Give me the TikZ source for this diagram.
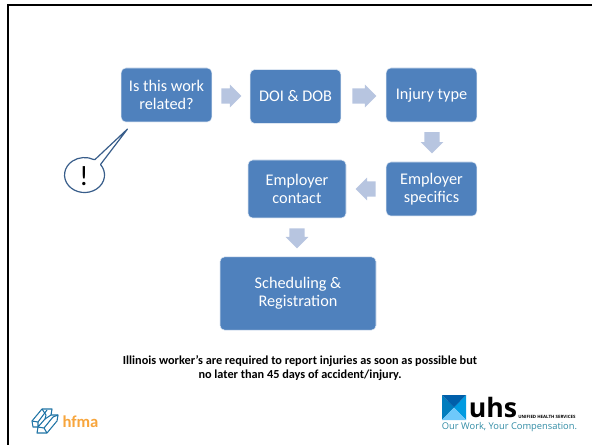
\documentclass[tikz,border=0pt]{standalone}
\usepackage{fontspec}
\setmainfont{Carlito}
\newfontfamily\logofont{Open Sans}
\usetikzlibrary{shapes.arrows}
\definecolor{boxblue}{RGB}{79,129,189}
\definecolor{arrowblue}{RGB}{183,197,224}
\definecolor{calloutblue}{RGB}{56,93,138}
\definecolor{hfmablue}{RGB}{30,115,165}
\definecolor{hfmaorange}{RGB}{247,165,60}
\definecolor{uhsblue}{RGB}{0,125,190}
\definecolor{uhsmid}{RGB}{0,155,225}
\definecolor{uhsdark}{RGB}{0,95,170}
\definecolor{uhslight}{RGB}{110,200,250}
\definecolor{uhsteal}{RGB}{50,140,165}
\tikzset{
  stepbox/.style={draw=white!80!boxblue, line width=0.4pt, fill=boxblue, rounded corners=3.5pt, text=white, align=center, font=\fontsize{12.2}{13.5}\selectfont, inner sep=0pt},
  flowarrow/.style={fill=arrowblue, draw=none, single arrow, single arrow head extend=2.8pt, minimum height=15pt, text height=11pt, text depth=0pt, text width=0pt, inner sep=0pt, single arrow tip angle=90},
}
\begin{document}
\begin{tikzpicture}[x=0.75pt,y=-0.75pt]
    \useasboundingbox (0,0) rectangle (592,445);

    % Frame
    \draw[line width=1.7pt] (8,445) -- (8,5) -- (592,5);

    % Steps
    \node[stepbox, minimum width=68pt, minimum height=40.5pt] (workRelated) at (166.5,95) {Is this work\\related?};
    \node[stepbox, minimum width=68pt, minimum height=40.5pt] (doiDob) at (295.5,96.5) {DOI \& DOB};
    \node[stepbox, minimum width=68pt, minimum height=40.5pt] (injuryType) at (431.5,95) {Injury type};
    \node[stepbox, minimum width=68pt, minimum height=40.5pt] (specifics) at (431.5,189) {Employer\\specifics};
    \node[stepbox, minimum width=73.5pt, minimum height=43.5pt] (contact) at (297,189) {Employer\\contact};
    \node[stepbox, minimum width=117pt, minimum height=55pt] (scheduling) at (298,293.5) {Scheduling \&\\Registration};

    % Arrows between steps
    \node[flowarrow] (arrowOne) at (227.5,96) {};
    \node[flowarrow, minimum height=18pt] (arrowTwo) at (360.5,96) {};
    \node[flowarrow, minimum height=16pt, rotate=-90] (arrowThree) at (432,139) {};
    \node[flowarrow, rotate=180] (arrowFour) at (369.5,189) {};
    \node[flowarrow, rotate=-90] (arrowFive) at (297,234.5) {};

    % Callout
    \draw[calloutblue, line width=0.9pt, fill=white, line join=round] (95,159.5) -- (127.5,129) -- (100.5,164.5)
      arc[start angle=-37, end angle=298, x radius=20, y radius=17.5] -- cycle;
    \node[font=\fontsize{21}{24}\selectfont, inner sep=0pt] (warning) at (84,176) {!};

    % Note
    \node[font=\bfseries\fontsize{9.2}{10.5}\selectfont, align=center] (note) at (300,368) {Illinois worker’s are required to report injuries as soon as possible but\\no later than 45 days of accident/injury.};

    % hfma logo
    \begin{scope}[hfmablue, line width=0.8pt, line join=round]
      \draw (32,421) -- (42,409) -- (52,409) -- (51,415) -- (58,415) -- (57,421) -- (47,433) -- (37,433) -- (38,427) -- (33,427) -- cycle;
      \draw (32,421) -- (38,422) -- (47,410);
      \draw (38,422) -- (38,427) -- (45,419) -- (51,415);
      \draw (38,427) -- (44,428) -- (47,433);
      \draw (44,428) -- (53,417) -- (58,415);
      \draw (42,409) -- (46,415) -- (45,419);
    \end{scope}
    \node[hfmaorange, font=\bfseries\fontsize{12.5}{14}\selectfont, inner sep=0pt] (hfma) at (80.5,422) {hfma};

    % uhs logo
    \fill[uhsblue] (442,395) -- (454,407.5) -- (442,420) -- cycle;
    \fill[uhsmid] (466,395) -- (454,407.5) -- (466,420) -- cycle;
    \fill[uhsdark] (442,395) -- (466,395) -- (454,407.5) -- cycle;
    \fill[uhslight] (442,420) -- (466,420) -- (454,407.5) -- cycle;
    \node[font=\logofont\bfseries\fontsize{20}{20}\selectfont, inner sep=0pt, anchor=base] (uhs) at (493,417) {uhs};
    \node[font=\logofont\bfseries\fontsize{3.3}{4}\selectfont, inner sep=0pt, anchor=west] (uhsName) at (518,416.5) {UNIFIED HEALTH SERVICES};
    \node[uhsteal, font=\logofont\fontsize{7}{8}\selectfont, inner sep=0pt] (tagline) at (509.5,427) {Our Work, Your Compensation.};
\end{tikzpicture}
\end{document}
